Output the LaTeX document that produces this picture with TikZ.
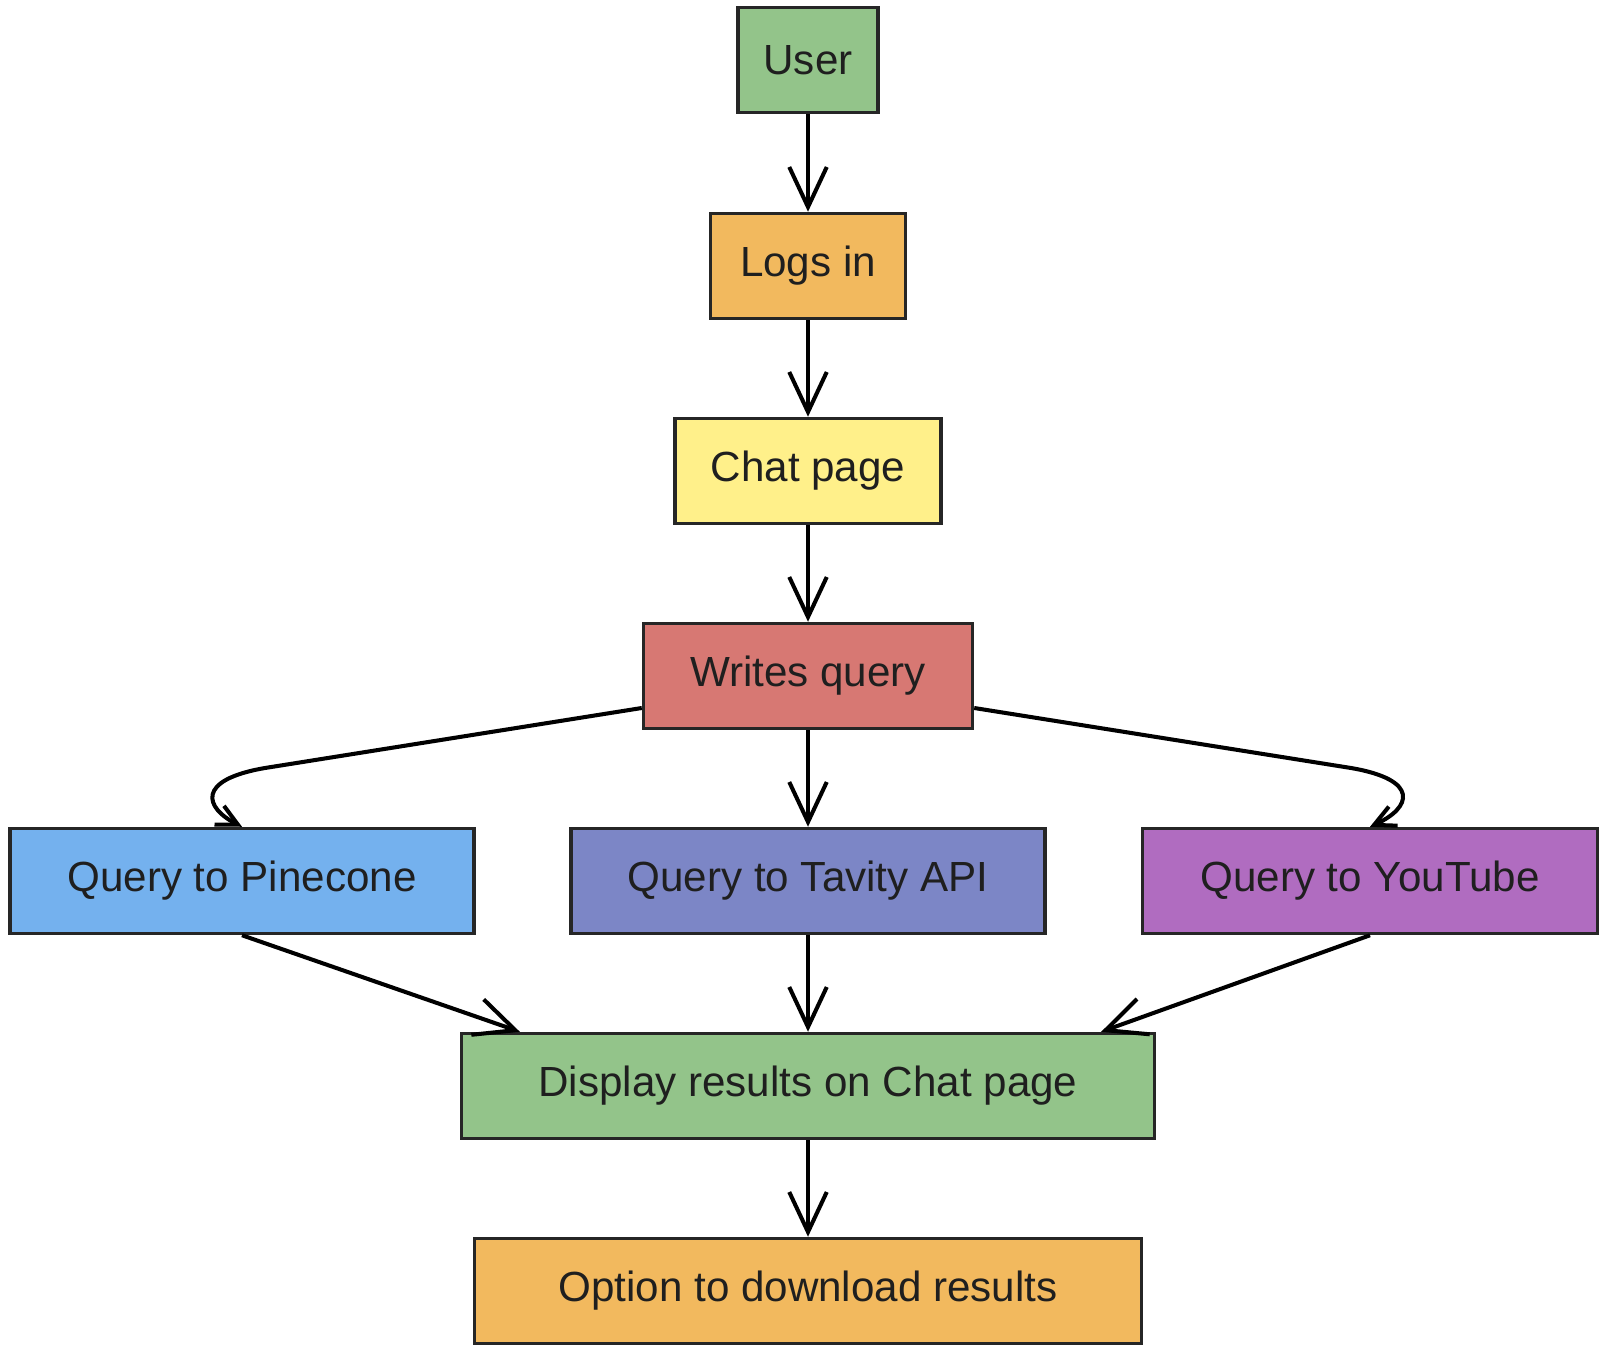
\documentclass[tikz,border=0pt]{standalone}
\usepackage{fontspec}
\setmainfont{Liberation Sans}
\usetikzlibrary{arrows.meta}
\definecolor{boxgreen}{HTML}{93C48A}
\definecolor{boxorange}{HTML}{F2B95E}
\definecolor{boxyellow}{HTML}{FFF08A}
\definecolor{boxred}{HTML}{D77873}
\definecolor{boxblue}{HTML}{74B1EE}
\definecolor{boxindigo}{HTML}{7C86C6}
\definecolor{boxpurple}{HTML}{B06CC0}

\begin{document}
\begin{tikzpicture}[x=0.02cm, y=-0.02cm,
 >={Straight Barb[length=0.8cm, width=0.75cm]},
 box/.style={draw=black!85, line width=2pt, minimum height=2.1cm, inner sep=0pt,
   font=\fontsize{24}{29}\selectfont, text=black!88},
 flow/.style={->, line width=2.3pt},
 hook flow/.style={-{Straight Barb[length=0.42cm, width=0.42cm]}, line width=2.3pt, line join=round}]

    \useasboundingbox (0,0) rectangle (1608,1358);

    \node[box, fill=boxgreen, minimum width=2.8cm] (user) at (808,60) {User};
    \node[box, fill=boxorange, minimum width=3.9cm] (login) at (808,266) {Logs in};
    \node[box, fill=boxyellow, minimum width=5.32cm] (chat) at (808,471) {Chat page};
    \node[box, fill=boxred, minimum width=6.58cm] (query) at (808,676) {Writes query};

    \node[box, fill=boxblue, minimum width=9.28cm] (pine) at (242,881) {Query to Pinecone};
    \node[box, fill=boxindigo, minimum width=9.48cm] (tavity) at (808,881) {Query to Tavity API};
    \node[box, fill=boxpurple, minimum width=9.1cm] (yt) at (1370,881) {Query to YouTube};

    \node[box, fill=boxgreen, minimum width=13.86cm] (display) at (808,1086) {Display results on Chat page};
    \node[box, fill=boxorange, minimum width=13.34cm] (option) at (808,1291) {Option to download results};

    \draw[flow] (user) -- (login);
    \draw[flow] (login) -- (chat);
    \draw[flow] (chat) -- (query);
    \draw[flow] (query) -- (tavity);

    % curved branches to the side queries
    \draw[hook flow] ([yshift=-0.64cm]query.west) -- (265,768)
        .. controls (195,780) and (205,808) .. (pine.north);
    \draw[hook flow] ([yshift=-0.64cm]query.east) -- (1351,768)
        .. controls (1421,780) and (1411,808) .. (yt.north);

    \draw[flow] (pine.south) -- ([xshift=1.2cm]display.north west);
    \draw[flow] (tavity) -- (display);
    \draw[flow] (yt.south) -- ([xshift=-1.1cm]display.north east);
    \draw[flow] (display) -- (option);

\end{tikzpicture}
\end{document}
